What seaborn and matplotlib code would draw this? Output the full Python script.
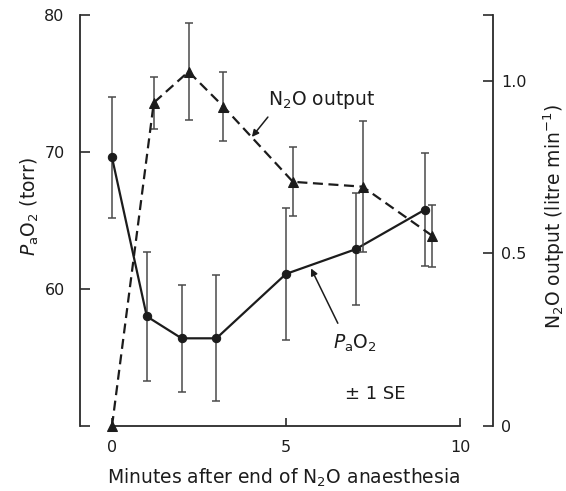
import numpy as np
import pandas as pd
import seaborn as sns
import matplotlib.pyplot as plt

# Arterial oxygen tension (torr) after the end of N2O anaesthesia
minutes_pao2 = [0, 1, 2, 3, 5, 7, 9]
pao2 = [69.6, 58.0, 56.4, 56.4, 61.1, 62.9, 65.8]
pao2_se = [4.4, 4.7, 3.9, 4.6, 4.8, 4.1, 4.1]

# N2O output (litre/min)
minutes_n2o = [0, 1.2, 2.2, 3.2, 5.2, 7.2, 9.2]
n2o_output = [0.0, 0.936, 1.026, 0.925, 0.707, 0.693, 0.551]
n2o_se = [0.0, 0.075, 0.14, 0.10, 0.10, 0.19, 0.09]

x_ticks = [0, 5, 10]
left_ticks = [50, 60, 70, 80]
left_ticklabels = ["", "60", "70", "80"]
right_ticks = [0, 0.5, 1.0, 1.19]
right_ticklabels = ["0", "0.5", "1.0", ""]

sns.set_theme(style="ticks")
plt.rcParams["font.family"] = ["DejaVu Sans"]
plt.rcParams["mathtext.fontset"] = "dejavusans"

ink = "#1c1c1c"
bar_col = "#4a4a4a"
label_size = 13.5

W, H = 566, 491
fig = plt.figure(figsize=(W / 100, H / 100), dpi=100)
ax = fig.add_axes([80 / W, 1 - 426 / H, (493 - 80) / W, (426 - 15) / H])
ax2 = ax.twinx()

pao2_df = pd.DataFrame({"minutes": minutes_pao2, "pao2": pao2, "se": pao2_se})
n2o_df = pd.DataFrame({"minutes": minutes_n2o, "n2o": n2o_output, "se": n2o_se})

# PaO2: solid line with filled circles
sns.lineplot(data=pao2_df, x="minutes", y="pao2", ax=ax, color=ink,
             linewidth=1.6, marker="o", markersize=6,
             markeredgecolor=ink, markerfacecolor=ink, zorder=3)
ax.errorbar(pao2_df["minutes"], pao2_df["pao2"], yerr=pao2_df["se"],
            fmt="none", ecolor=bar_col, elinewidth=1.1, capsize=3,
            capthick=1.1, zorder=2)

# N2O output: dashed line with filled triangles
sns.lineplot(data=n2o_df, x="minutes", y="n2o", ax=ax2, color=ink,
             linewidth=1.6, linestyle=(0, (4.5, 2.5)), marker="^",
             markersize=7, markeredgecolor=ink, markerfacecolor=ink,
             zorder=3, clip_on=False)
has_se = n2o_df["se"] > 0
ax2.errorbar(n2o_df.loc[has_se, "minutes"], n2o_df.loc[has_se, "n2o"],
             yerr=n2o_df.loc[has_se, "se"], fmt="none", ecolor=bar_col,
             elinewidth=1.1, capsize=3, capthick=1.1, zorder=2)

# Axes limits and spines
ax.set_xlim(-0.92, 10.95)
ax.set_ylim(50, 80)
ax2.set_ylim(0, 1.19)

for a in (ax, ax2):
    for s in a.spines.values():
        s.set_color("#2a2a2a")
        s.set_linewidth(1.3)
ax.spines["top"].set_visible(False)
ax.spines["right"].set_visible(False)
ax.spines["bottom"].set_bounds(0, 10)
for side in ("left", "top", "bottom"):
    ax2.spines[side].set_visible(False)

ax.set_xticks(x_ticks, [str(t) for t in x_ticks])
ax.set_yticks(left_ticks, left_ticklabels)
ax2.set_yticks(right_ticks, right_ticklabels)

ax.tick_params(axis="x", direction="in", length=6, width=1.2,
               labelsize=11.5, pad=10, colors="#2a2a2a", labelcolor=ink)
ax.tick_params(axis="y", direction="in", length=7, width=1.2,
               labelsize=11.5, pad=11, colors="#2a2a2a", labelcolor=ink)
ax2.tick_params(axis="y", direction="in", length=7, width=1.2,
                labelsize=11.5, pad=6, colors="#2a2a2a", labelcolor=ink)

ax.set_xlabel("Minutes after end of N$_2$O anaesthesia",
              fontsize=label_size, color=ink)
ax.xaxis.set_label_coords(0.494, -0.1)
ax.set_ylabel("$P_{\\mathrm{a}}\\mathrm{O}_2$ (torr)", fontsize=label_size,
              color=ink)
ax.yaxis.set_label_coords(-0.095, 0.535)
ax2.set_ylabel("N$_2$O output (litre min$^{-1}$)", fontsize=label_size,
               color=ink)
ax2.yaxis.set_label_coords(1.118, 0.51)

# Curve labels with pointer arrows
arrow = dict(arrowstyle="-|>", color=ink, lw=1.1, mutation_scale=10,
             shrinkA=0, shrinkB=0)
ax.text(6.03, 73.8, "N$_2$O output", fontsize=label_size, color=ink,
        ha="center", va="center")
ax.annotate("", xy=(4.02, 71.1), xytext=(4.48, 72.55), arrowprops=arrow)
ax.text(6.98, 56.0, "$P_{\\mathrm{a}}\\mathrm{O}_2$", fontsize=label_size,
        color=ink, ha="center", va="center")
ax.annotate("", xy=(5.72, 61.5), xytext=(6.49, 57.5), arrowprops=arrow)
ax.text(7.56, 52.35, "± 1 SE", fontsize=13, color=ink,
        ha="center", va="center")

ax.grid(False)
ax2.grid(False)
fig.savefig("out.png", dpi=100, facecolor="white")
